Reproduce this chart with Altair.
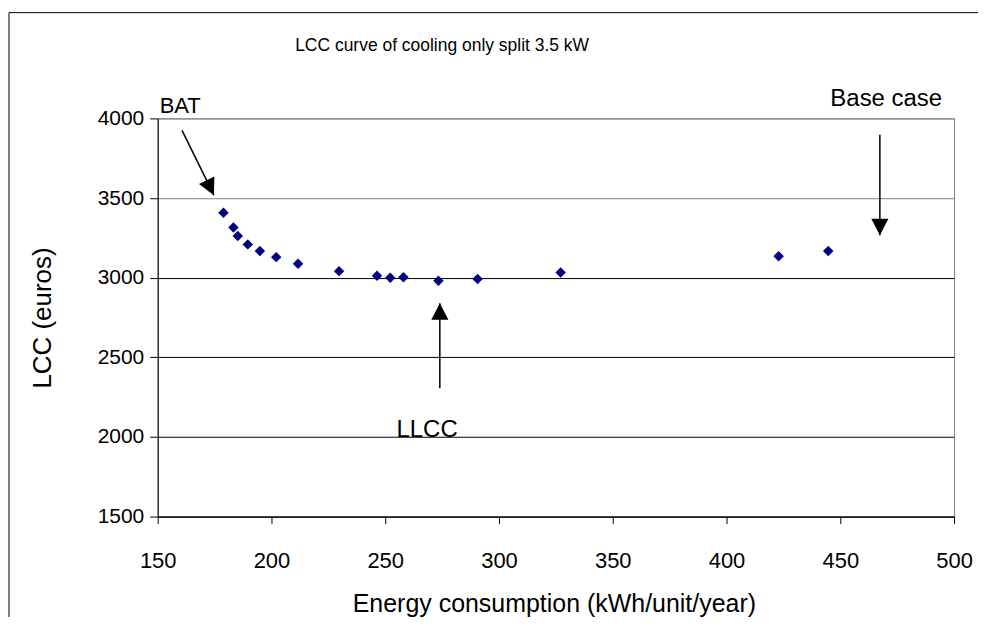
import altair as alt
import pandas as pd

# Data points (energy consumption vs LCC)
energy = [178.9, 183.3, 185.2, 189.6, 194.9, 202.1, 211.7, 229.7, 246.4,
          252.2, 258.0, 273.4, 290.6, 327.1, 422.9, 444.7]
lcc = [3407, 3315, 3261, 3209, 3167, 3129, 3087, 3041, 3012,
       2999, 3002, 2981, 2991, 3033, 3135, 3167]

# Annotation arrows
arrow_name = ["BAT", "LLCC", "Base case"]
arrow_x0 = [160.7, 274.0, 467.4]
arrow_y0 = [3925, 2306, 3898]
arrow_x1 = [174.7, 274.0, 467.4]
arrow_y1 = [3518, 2839, 3267]
arrow_angle = [334, 180, 0]

# Annotation texts
label_text = ["BAT", "LLCC", "Base case"]
label_x = [150.9, 268.4, 470.2]
label_y = [4031, 2000, 4075]
label_align = ["left", "center", "center"]

title_text = ["LCC curve of cooling only split 3.5 kW"]
title_x = [275.0]
title_y = [4457]

FONT = "Liberation Sans"

pts = pd.DataFrame({"energy": energy, "lcc": lcc})
arr = pd.DataFrame({"name": arrow_name, "x0": arrow_x0, "y0": arrow_y0,
                    "x1": arrow_x1, "y1": arrow_y1, "angle": arrow_angle})
lab = pd.DataFrame({"text": label_text, "x": label_x, "y": label_y, "align": label_align})
ttl = pd.DataFrame({"text": title_text, "x": title_x, "y": title_y})

xscale = alt.Scale(domain=[150, 500], nice=False, zero=False)
yscale = alt.Scale(domain=[1500, 4000], nice=False, zero=False)

xaxis = alt.Axis(values=[150, 200, 250, 300, 350, 400, 450, 500], title="Energy consumption (kWh/unit/year)",
                 format="d", labelFlush=False, labelOverlap=False,
                 grid=False, tickSize=7, tickColor="black", domainColor="black",
                 labelFont=FONT, labelFontSize=22, labelColor="black", labelPadding=27,
                 titleFont=FONT, titleFontSize=25, titleFontWeight="normal", titleColor="black",
                 titleX=397, titleY=87, titleBaseline="middle", titleAnchor=None)
yaxis = alt.Axis(values=[1500, 2000, 2500, 3000, 3500, 4000], title="LCC (euros)",
                 format="d", labelFlush=False, labelOverlap=False,
                 grid=True,
                 gridColor=alt.condition("datum.value >= 3500", alt.value("#808080"), alt.value("black")),
                 gridOpacity=1, gridWidth=1,
                 tickSize=8, tickColor="black", domainColor="black",
                 labelFont=FONT, labelFontSize=21, labelColor="black", labelPadding=6,
                 titleFont=FONT, titleFontSize=26, titleFontWeight="normal", titleColor="black",
                 titleX=-115, titleY=199.5, titleBaseline="middle", titleAlign="center")

frame_top = alt.Chart(pd.DataFrame({"a": [0]})).mark_rule(
    color="black", strokeWidth=1, clip=False
).encode(x=alt.value(-149), x2=alt.value(900), y=alt.value(-106))

frame_left = alt.Chart(pd.DataFrame({"a": [0]})).mark_rule(
    color="black", strokeWidth=1, clip=False
).encode(x=alt.value(-149), y=alt.value(-106), y2=alt.value(600))

points = alt.Chart(pts).mark_point(shape="diamond", filled=True, size=110, opacity=1,
                                   color="#000080", strokeWidth=0).encode(
    x=alt.X("energy:Q", scale=xscale, axis=xaxis),
    y=alt.Y("lcc:Q", scale=yscale, axis=yaxis),
)

shafts = alt.Chart(arr).mark_rule(color="black", strokeWidth=1.5, clip=False).encode(
    x=alt.X("x0:Q", scale=xscale), y=alt.Y("y0:Q", scale=yscale),
    x2="x1:Q", y2="y1:Q",
)

heads = alt.Chart(arr).mark_point(shape="M0,0L-0.52,-1L0.52,-1Z", filled=True, size=1089,
                                  color="black", opacity=1, strokeWidth=0, clip=False).encode(
    x=alt.X("x1:Q", scale=xscale), y=alt.Y("y1:Q", scale=yscale),
    angle=alt.Angle("angle:Q", scale=None),
)

labels_left = alt.Chart(lab[lab["align"] == "left"]).mark_text(
    font=FONT, fontSize=22, color="black", align="left", baseline="alphabetic", clip=False
).encode(x=alt.X("x:Q", scale=xscale), y=alt.Y("y:Q", scale=yscale), text="text:N")

labels_center = alt.Chart(lab[lab["align"] == "center"]).mark_text(
    font=FONT, fontSize=24, color="black", align="center", baseline="alphabetic", clip=False
).encode(x=alt.X("x:Q", scale=xscale), y=alt.Y("y:Q", scale=yscale), text="text:N")

title = alt.Chart(ttl).mark_text(
    font=FONT, fontSize=17.5, color="black", align="center", baseline="middle", clip=False
).encode(x=alt.X("x:Q", scale=xscale), y=alt.Y("y:Q", scale=yscale), text="text:N")

chart = alt.layer(frame_top, frame_left, points, shafts, heads, labels_left, labels_center, title).properties(
    width=798, height=399,
    autosize=alt.AutoSizeParams(type="none"),
    padding={"left": 150, "top": 110, "right": 24, "bottom": 100},
    background="white",
).configure_view(stroke="#808080", strokeWidth=1)

chart.save("out.html", embed_options={"renderer": "svg", "actions": False})
